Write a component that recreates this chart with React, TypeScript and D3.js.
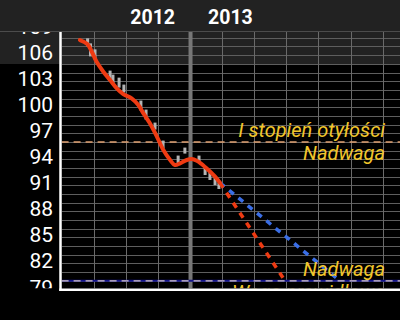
import React from "react";
import * as d3 from "d3";

// ---- data (months relative to 1 Jan 2013, weight in kg) ----
const trendMonths = [-3.43, -3.2, -3.06, -2.91, -2.7, -2.49, -2.28, -2.08, -1.82, -1.61, -1.45, -1.25, -1.04, -0.83, -0.62, -0.47, -0.31, -0.1, 0.05, 0.21, 0.36, 0.57, 0.78, 0.93];
const trendValues = [107.74, 107.28, 106.4, 105.24, 104.09, 103.14, 102.18, 101.52, 101.03, 100.26, 99.3, 98.15, 96.68, 95.07, 93.92, 93.34, 93.54, 93.92, 94.03, 93.84, 93.46, 92.77, 92.0, 91.3];

const measMonths = [-3.19, -3.1, -2.96, -2.49, -2.4, -2.21, -2.06, -1.53, -1.37, -1.09, -0.84, -0.37, -0.16, 0.28, 0.47, 0.62, 0.78, 0.9];
const measHigh = [107.94, 107.36, 106.67, 104.22, 103.76, 103.41, 102.61, 100.77, 99.73, 98.23, 96.16, 94.43, 95.35, 94.43, 93.0, 92.54, 92.08, 91.27];
const measLow = [107.02, 105.86, 105.52, 103.07, 102.61, 102.26, 101.69, 99.62, 98.58, 97.43, 95.24, 93.39, 94.66, 93.62, 92.19, 91.62, 91.04, 90.58];

const projFastMonths = [0.93, 2.96];
const projFastValues = [91.3, 80.0];
const projSlowMonths = [0.93, 4.67];
const projSlowValues = [91.3, 80.0];

const yTicks = [79, 82, 85, 88, 91, 94, 97, 100, 103, 106, 109];
const monthGrid = [-3, -2, -1, 0, 1, 2, 3, 4, 5, 6];
const yearLabels = ["2012", "2013"];
const yearBoundary = 0;

const obesityLevel = 96;
const overweightLevel = 80;
const obesityLabel = "I stopień otyłości";
const overweightLabel = "Nadwaga";
const normalLabel = "Waga prawidłowa";

const W = 400;
const H = 320;

export default function App() {
  const x = d3.scaleLinear().domain([-4.0, 6.54]).range([61.6, 400]);
  const y = d3.scaleLinear().domain([79, 108.67]).range([289.5, 32]);

  const gridValues = d3.range(79, 109);

  const trend = trendMonths.map((m, i) => [m, trendValues[i]] as [number, number]);
  const lineGen = d3
    .line<[number, number]>()
    .x((d) => x(d[0]))
    .y((d) => y(d[1]))
    .curve(d3.curveCatmullRom.alpha(0.5));

  const straight = d3
    .line<[number, number]>()
    .x((d) => x(d[0]))
    .y((d) => y(d[1]));

  const fast = projFastMonths.map((m, i) => [m, projFastValues[i]] as [number, number]);
  const slow = projSlowMonths.map((m, i) => [m, projSlowValues[i]] as [number, number]);

  const plotLeft = 61.6;
  const plotTop = 32;
  const plotBottom = 288.3;
  const textRight = 385;
  const yellow = "#f2c62c";

  return (
    <svg
      width={W}
      height={H}
      style={{ position: "absolute", left: 0, top: 0, display: "block", background: "#000" }}
    >
      <defs>
        <clipPath id="plotClip">
          <rect x={plotLeft} y={plotTop} width={W - plotLeft} height={plotBottom - plotTop} />
        </clipPath>
        <clipPath id="labelClip">
          <rect x={0} y={plotTop} width={plotLeft} height={plotBottom - plotTop} />
        </clipPath>
      </defs>
      <rect x={0} y={0} width={W} height={H} fill="#000" />
      <rect x={0} y={0} width={W} height={64} fill="#222" />
      <line x1={0} x2={W} y1={31.5} y2={31.5} stroke="#4c4c4c" strokeWidth={1} />

      {/* year labels */}
      <text
        x={x(yearBoundary) - 15}
        y={24}
        textAnchor="end"
        fill="#fff"
        fontFamily="Roboto"
        fontWeight="bold"
        fontSize={19.5}
      >
        {yearLabels[0]}
      </text>
      <text
        x={x(yearBoundary) + 18}
        y={24}
        textAnchor="start"
        fill="#fff"
        fontFamily="Roboto"
        fontWeight="bold"
        fontSize={19.5}
      >
        {yearLabels[1]}
      </text>

      <g clipPath="url(#plotClip)">
        {gridValues.map((v) => (
          <line key={"h" + v} x1={plotLeft} x2={W} y1={Math.round(y(v)) + 0.5} y2={Math.round(y(v)) + 0.5} stroke="#5e5e5e" strokeWidth={1} />
        ))}
        {monthGrid.map((m) => (
          <line key={"v" + m} x1={Math.round(x(m)) + 0.5} x2={Math.round(x(m)) + 0.5} y1={plotTop} y2={290} stroke="#6a6a6a" strokeWidth={1} />
        ))}
        <line x1={x(yearBoundary) + 0.5} x2={x(yearBoundary) + 0.5} y1={plotTop} y2={290} stroke="#777" strokeWidth={4} />

        {/* thresholds */}
        <line x1={plotLeft} x2={W} y1={y(obesityLevel)} y2={y(obesityLevel)} stroke="#e0a070" strokeWidth={1.5} strokeDasharray="7,5" />
        <line x1={plotLeft} x2={W} y1={y(overweightLevel)} y2={y(overweightLevel)} stroke="#14148c" strokeWidth={2} />
        <line x1={plotLeft} x2={W} y1={y(overweightLevel)} y2={y(overweightLevel)} stroke="#d8c8c8" strokeWidth={1.3} strokeDasharray="7,5" />

        {/* measurements */}
        {measMonths.map((m, i) => (
          <rect
            key={"b" + i}
            x={x(m) - 1.5}
            y={y(measHigh[i])}
            width={3}
            height={y(measLow[i]) - y(measHigh[i])}
            fill="#b4b4b4"
          />
        ))}

        {/* projections */}
        <path d={straight(slow) || ""} fill="none" stroke="#3a6ee6" strokeWidth={3.5} strokeDasharray="6,6" />
        <path d={straight(fast) || ""} fill="none" stroke="#ee3a12" strokeWidth={3.5} strokeDasharray="6,6" />

        {/* trend */}
        <path d={lineGen(trend) || ""} fill="none" stroke="#ee3a12" strokeWidth={4} strokeLinecap="round" strokeLinejoin="round" />

        {/* zone labels */}
        <g fontFamily="Roboto" fontStyle="italic" fontSize={20} fill={yellow} textAnchor="end">
          <text x={textRight} y={y(obesityLevel) - 5}>{obesityLabel}</text>
          <text x={textRight} y={y(obesityLevel) + 18.5}>{overweightLabel}</text>
          <text x={textRight} y={y(overweightLevel) - 5}>{overweightLabel}</text>
          <text x={textRight} y={y(overweightLevel) + 18.5}>{normalLabel}</text>
        </g>
      </g>

      {/* y tick labels */}
      <g clipPath="url(#labelClip)" fontFamily="Roboto" fontSize={21} fill="#fff" textAnchor="end">
        {yTicks.map((t) => (
          <text key={"t" + t} x={53} y={y(t) + 5}>
            {t}
          </text>
        ))}
      </g>

      {/* axes */}
      <line x1={60.5} x2={60.5} y1={plotTop} y2={291} stroke="#fff" strokeWidth={2.5} />
      <line x1={59.3} x2={W} y1={289.7} y2={289.7} stroke="#fff" strokeWidth={2.5} />
    </svg>
  );
}
